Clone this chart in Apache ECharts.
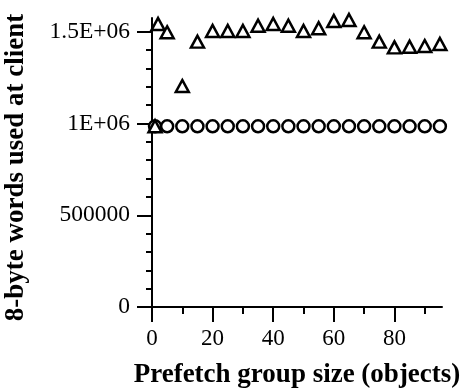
<!DOCTYPE html>
<html>
<head>
<meta charset="utf-8">
<script src="https://cdn.jsdelivr.net/npm/echarts@6/dist/echarts.min.js"></script>
<style>
html,body{margin:0;padding:0;background:#fff;}
#chart{width:462px;height:390px;}
</style>
</head>
<body>
<div id="chart"></div>
<script>
// Data
const circleX = [1, 5, 10, 15, 20, 25, 30, 35, 40, 45, 50, 55, 60, 65, 70, 75, 80, 85, 90, 95];
const circleY = [985000, 985000, 985000, 985000, 985000, 985000, 985000, 985000, 985000, 985000,
                 985000, 985000, 985000, 985000, 985000, 985000, 985000, 985000, 985000, 985000];
const triangleX = [1, 2, 5, 10, 15, 20, 25, 30, 35, 40, 45, 50, 55, 60, 65, 70, 75, 80, 85, 90, 95];
const triangleY = [985000, 1542000, 1497000, 1204000, 1446000, 1504000, 1504000, 1504000, 1533000, 1542000,
                   1533000, 1504000, 1519000, 1559000, 1564000, 1497000, 1446000, 1415000, 1418000, 1422000, 1433000];
const yMajorTicks = [0, 500000, 1000000, 1500000];
const yMajorLabels = ['0', '500000', '1E+06', '1.5E+06'];
const yMinorTicks = [100000, 200000, 300000, 400000, 600000, 700000, 800000, 900000, 1100000, 1200000, 1300000, 1400000];
const xMajorTicks = [0, 20, 40, 60, 80];
const xMinorTicks = [10, 30, 50, 70, 90];
const xTitle = 'Prefetch group size (objects)';
const yTitle = '8-byte words used at client';

const font = 'Liberation Serif';
const chart = echarts.init(document.getElementById('chart'), null, {renderer: 'canvas'});
const pairs = (xs, ys) => xs.map((x, i) => [x, ys[i]]);
const yLabelMap = {};
yMajorTicks.forEach((v, i) => { yLabelMap[v] = yMajorLabels[i]; });

const axisLine = {show: true, lineStyle: {color: '#000', width: 2}};
const yMin = 0, yMax = 1575000, xMin = 0, xMax = 95.7;

chart.setOption({
  backgroundColor: '#fff',
  animation: false,
  grid: {left: 152, right: 20, top: 18, bottom: 83, containLabel: false, outerBoundsMode: 'none'},
  xAxis: [
    {
      type: 'value', position: 'bottom', min: xMin, max: xMax,
      axisLine: axisLine,
      axisTick: {show: true, customValues: xMajorTicks, length: 15, lineStyle: {color: '#000', width: 2}},
      axisLabel: {customValues: xMajorTicks, margin: 20, fontFamily: font, fontSize: 23, color: '#000'},
      splitLine: {show: false},
      name: xTitle, nameLocation: 'middle', nameGap: 55,
      nameTextStyle: {fontFamily: font, fontWeight: 'bold', fontSize: 27, color: '#000'}
    },
    {
      type: 'value', position: 'bottom', min: xMin, max: xMax,
      axisLine: {show: false},
      axisTick: {show: true, customValues: xMinorTicks, length: 7, lineStyle: {color: '#000', width: 2}},
      axisLabel: {show: false},
      splitLine: {show: false}
    }
  ],
  yAxis: [
    {
      type: 'value', position: 'left', min: yMin, max: yMax, interval: 100000,
      axisLine: axisLine,
      axisTick: {show: true, customValues: yMinorTicks, length: 6, lineStyle: {color: '#000', width: 2}},
      axisLabel: {show: false},
      splitLine: {show: false},
      name: yTitle, nameLocation: 'middle', nameRotate: 90, nameGap: 122,
      nameTextStyle: {fontFamily: font, fontWeight: 'bold', fontSize: 27, color: '#000', padding: [0, 10, 0, 0]}
    },
    {
      type: 'value', position: 'left', min: yMin, max: yMax, interval: 100000,
      axisLine: {show: false},
      axisTick: {show: true, customValues: yMajorTicks, length: 15, lineStyle: {color: '#000', width: 2}},
      axisLabel: {customValues: yMajorTicks, margin: 22, fontFamily: font, fontSize: 23.5, color: '#000',
                  formatter: v => yLabelMap[v] !== undefined ? yLabelMap[v] : ''},
      splitLine: {show: false}
    }
  ],
  series: [
    {
      type: 'scatter', xAxisIndex: 0, yAxisIndex: 0,
      data: pairs(circleX, circleY),
      symbol: 'circle', symbolSize: 12,
      itemStyle: {color: '#fff', borderColor: '#000', borderWidth: 2.5, opacity: 1}
    },
    {
      type: 'scatter', xAxisIndex: 0, yAxisIndex: 0,
      data: pairs(triangleX, triangleY),
      symbol: 'triangle', symbolSize: [13, 12],
      itemStyle: {color: '#fff', borderColor: '#000', borderWidth: 2.5, opacity: 1}
    }
  ]
});
</script>
</body>
</html>
